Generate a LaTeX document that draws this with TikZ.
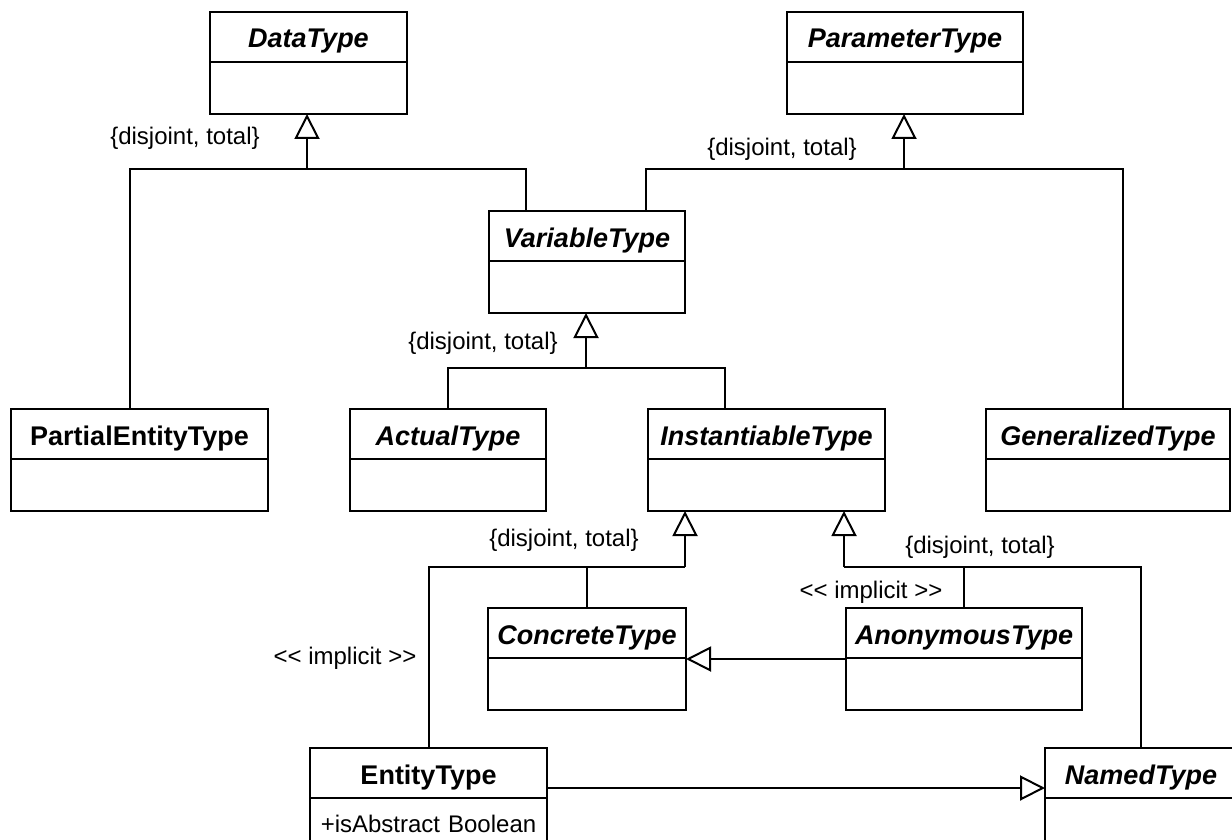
\documentclass[tikz,border=0pt]{standalone}
\usepackage{fontspec}
\setmainfont{Liberation Sans}
\usetikzlibrary{shapes.multipart,arrows.meta}

\newcommand{\absname}[1]{\rule[-13pt]{0pt}{48pt}{\fontsize{27}{32}\selectfont\bfseries\itshape #1}}
\newcommand{\clsname}[1]{\rule[-13pt]{0pt}{48pt}{\fontsize{27}{32}\selectfont\bfseries #1}}
\newcommand{\clsbody}[1]{\rule[-20pt]{0pt}{50pt}#1}

\begin{document}
\begin{tikzpicture}[x=1pt,y=-1pt]
  % Settings
  \tikzset{
    cls/.style={draw, line width=2pt, rectangle split, rectangle split parts=2, inner xsep=0pt, inner ysep=0pt, outer sep=0pt, align=center, anchor=north west, font=\fontsize{24}{28}\selectfont},
    conn/.style={line width=2pt},
    gen/.style={line width=2pt, -{Triangle[open, length=25pt, width=25pt]}},
    lbl/.style={inner sep=0pt, font=\fontsize{24}{28}\selectfont},
  }
  \useasboundingbox (0,0) rectangle (1232,840);

  % Classes
  \node[cls, text width=197pt] (datatype) at (210,12) {\absname{DataType}\nodepart{two}\clsbody{}};
  \node[cls, text width=236pt] (paramtype) at (787,12) {\absname{ParameterType}\nodepart{two}\clsbody{}};
  \node[cls, text width=196pt] (vartype) at (489,211) {\absname{VariableType}\nodepart{two}\clsbody{}};
  \node[cls, text width=257pt] (partial) at (11,409) {\clsname{PartialEntityType}\nodepart{two}\clsbody{}};
  \node[cls, text width=196pt] (actual) at (350,409) {\absname{ActualType}\nodepart{two}\clsbody{}};
  \node[cls, text width=237pt] (instant) at (648,409) {\absname{InstantiableType}\nodepart{two}\clsbody{}};
  \node[cls, text width=244pt] (general) at (986,409) {\absname{GeneralizedType}\nodepart{two}\clsbody{}};
  \node[cls, text width=198pt] (concrete) at (488,608) {\absname{ConcreteType}\nodepart{two}\clsbody{}};
  \node[cls, text width=236pt] (anon) at (846,608) {\absname{AnonymousType}\nodepart{two}\clsbody{}};
  \node[cls, text width=237pt] (entity) at (310,748) {\clsname{EntityType}\nodepart{two}\rule[-21pt]{0pt}{54pt}+isAbstract Boolean};
  \node[cls, text width=192pt] (named) at (1045,748) {\absname{NamedType}\nodepart{two}\rule[-21pt]{0pt}{54pt}};

  % Junctions
  \coordinate (dtj) at (307,169);
  \coordinate (ptj) at (904,169);
  \coordinate (vtj) at (586,368);
  \coordinate (itl) at (685,567);
  \coordinate (itr) at (844,567);

  % Arrows
  \draw[gen] (dtj) -- (dtj |- datatype.south);
  \draw[conn] ([xshift=-10pt]partial.north) |- (dtj);
  \draw[conn] ([xshift=-61pt]vartype.north) |- (dtj);

  \draw[gen] (ptj) -- (ptj |- paramtype.south);
  \draw[conn] ([xshift=59pt]vartype.north) |- (ptj);
  \draw[conn] ([xshift=15pt]general.north) |- (ptj);

  \draw[gen] (vtj) -- (vtj |- vartype.south);
  \draw[conn] (actual.north) |- (vtj);
  \draw[conn] ([xshift=-41.5pt]instant.north) |- (vtj);

  \draw[gen] (itl) -- (itl |- instant.south);
  \draw[conn] (entity.north) |- (itl);
  \draw[conn] (concrete.north) |- (itl);

  \draw[gen] (itr) -- (itr |- instant.south);
  \draw[conn] (anon.north) |- (itr);
  \draw[conn] (named.north) |- (itr);

  \draw[gen] (anon.west) -- (concrete.east);
  \draw[gen] ([yshift=13pt]entity.east) -- ([yshift=13pt]named.west);

  % Labels
  \node[lbl] (dtlbl) at (185,138) {\{disjoint, total\}};
  \node[lbl] (ptlbl) at (782,149) {\{disjoint, total\}};
  \node[lbl] (vtlbl) at (483,343) {\{disjoint, total\}};
  \node[lbl] (itllbl) at (564,540) {\{disjoint, total\}};
  \node[lbl] (itrlbl) at (980,547) {\{disjoint, total\}};
  \node[lbl] (implleft) at (345,658) {{<}{<} implicit {>}{>}};
  \node[lbl] (implright) at (871,592) {{<}{<} implicit {>}{>}};
\end{tikzpicture}
\end{document}
